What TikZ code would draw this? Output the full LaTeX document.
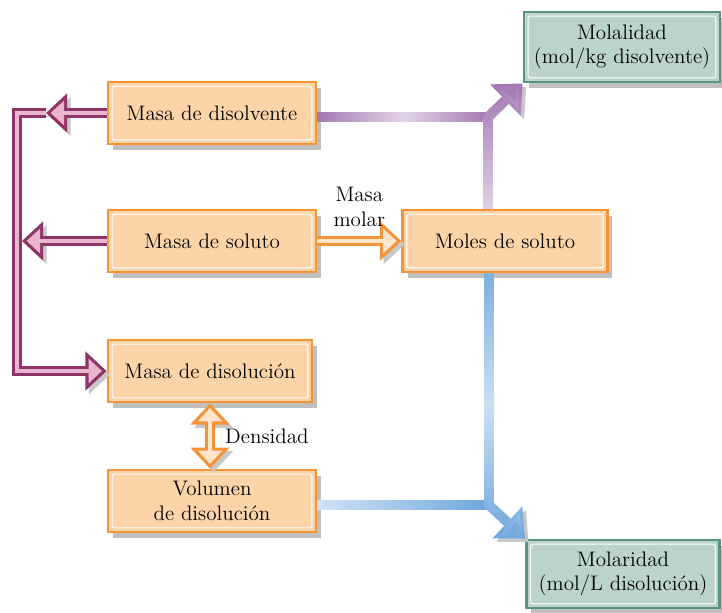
\documentclass[tikz,border=0pt]{standalone}
\usepackage{tikz}
\usetikzlibrary{shapes,arrows,positioning,calc,shadows,arrows.meta,fadings}

\definecolor{orbord}{RGB}{245,148,55}
\definecolor{orfill}{RGB}{253,212,167}
\definecolor{tlbord}{RGB}{88,148,132}
\definecolor{tlfill}{RGB}{188,210,205}
\definecolor{mgdark}{RGB}{142,52,102}
\definecolor{mglight}{RGB}{232,182,208}
\definecolor{orlight}{RGB}{254,228,200}
\definecolor{purbar}{RGB}{160,115,176}
\definecolor{bluebar}{RGB}{108,165,220}

\tikzfading[name=glowmid, left color=transparent!100, right color=transparent!100, middle color=transparent!30]
\tikzfading[name=glowleft, left color=transparent!30, right color=transparent!100]
\tikzfading[name=glowbottom, top color=transparent!100, bottom color=transparent!30]
\tikzfading[name=glowmidv, top color=transparent!90, bottom color=transparent!100, middle color=transparent!35]

\begin{document}
\begin{tikzpicture}[
	x=0.025cm, y=-0.025cm,
	every node/.style={font=\fontsize{14.95}{17.5}\selectfont},
	inset/.style={path picture={\draw[white, line width=0.7pt, rounded corners=1.5pt]
		([shift={(3pt,3pt)}]path picture bounding box.south west) rectangle
		([shift={(-3pt,-3pt)}]path picture bounding box.north east);}},
	quantity/.style={rectangle, draw=orbord, fill=orfill, line width=2pt, inset,
		minimum width=5.2cm, minimum height=1.55cm, align=center, inner sep=2pt,
		drop shadow={shadow xshift=3.5pt, shadow yshift=-4pt, fill=black!25, opacity=1}},
	result/.style={quantity, draw=tlbord, fill=tlfill, minimum width=4.9cm, minimum height=1.75cm},
	shadowed/.style={preaction={draw=black!22, transform canvas={shift={(2.5pt,-2.5pt)}}}},
	hollow/.style={shadowed, line width=7pt, draw=mgdark, -{Triangle[length=15pt,width=27pt]},
		postaction={draw=mglight, line width=2.6pt, -{Triangle[length=9.5pt,width=17pt]}, shorten >=3.3pt}},
	hollowor/.style={hollow, draw=orbord,
		postaction={draw=orlight, line width=2.6pt, -{Triangle[length=9.5pt,width=17pt]}, shorten >=3.3pt}},
	bothor/.style={shadowed, line width=7pt, draw=orbord,
		{Triangle[length=15pt,width=27pt]}-{Triangle[length=15pt,width=27pt]},
		postaction={draw=orlight, line width=2.6pt,
			{Triangle[length=9.5pt,width=17pt]}-{Triangle[length=9.5pt,width=17pt]},
			shorten >=3.3pt, shorten <=3.3pt}},
	bar/.style={shadowed, line width=7pt},
	glow/.style={postaction={draw=white, path fading=#1}},
	label/.style={font=\fontsize{14.95}{17.5}\selectfont, align=center}
	]
	
	\useasboundingbox (0,0) rectangle (722,612);
	
	% quantities
	\node[quantity] (dv) at (212,113) {Masa de disolvente};
	\node[quantity] (st) at (212,241) {Masa de soluto};
	\node[quantity, minimum width=5.1cm] (dn) at (210,371) {Masa de disolución};
	\node[quantity] (vol) at (212,501) {Volumen\\de disolución};
	\node[quantity, minimum width=5.12cm] (mol) at (505,241) {Moles de soluto};
	\node[result] (mll) at (622,47) {Molalidad\\(mol/kg disolvente)};
	\node[result, minimum width=4.83cm, minimum height=1.7cm] (mlr) at (623,574) {Molaridad\\(mol/L disolución)};
	
	% junction points
	\coordinate (tp) at (46,113);
	\coordinate (lb) at (17,113);
	\coordinate (sb) at (22,241);
	\coordinate (j1) at (488,117);
	\coordinate (j2) at (489,505);
	
	% left bracket
	\draw[hollow] (tp) -- (lb) |- (dn.west);
	\draw[hollow] (dv.west) -- (tp);
	\draw[hollow] (st.west) -- (sb);
	
	% orange conversions
	\draw[hollowor] (st.east) -- node[label, above=6pt, inner sep=1pt] {Masa\\molar} (mol.west);
	\draw[bothor] (dn.south) -- node[label, right, xshift=4pt] {Densidad} (dn.south |- vol.north);
	
	% towards molality
	\draw[bar, draw=purbar, glow=glowmid] (dv.east |- j1) -- (j1);
	\draw[bar, draw=purbar, glow=glowbottom, -{Triangle[length=17pt,width=30pt]}] (mol.north -| j1) -- (j1) -- (mll.south west);
	
	% towards molarity
	\draw[bar, draw=bluebar, glow=glowleft] (vol.east |- j2) -- (j2);
	\draw[bar, draw=bluebar, glow=glowmidv, -{Triangle[length=17pt,width=30pt]}] (mol.south -| j2) -- (j2) -- (mlr.north west);
	
\end{tikzpicture}
\end{document}
